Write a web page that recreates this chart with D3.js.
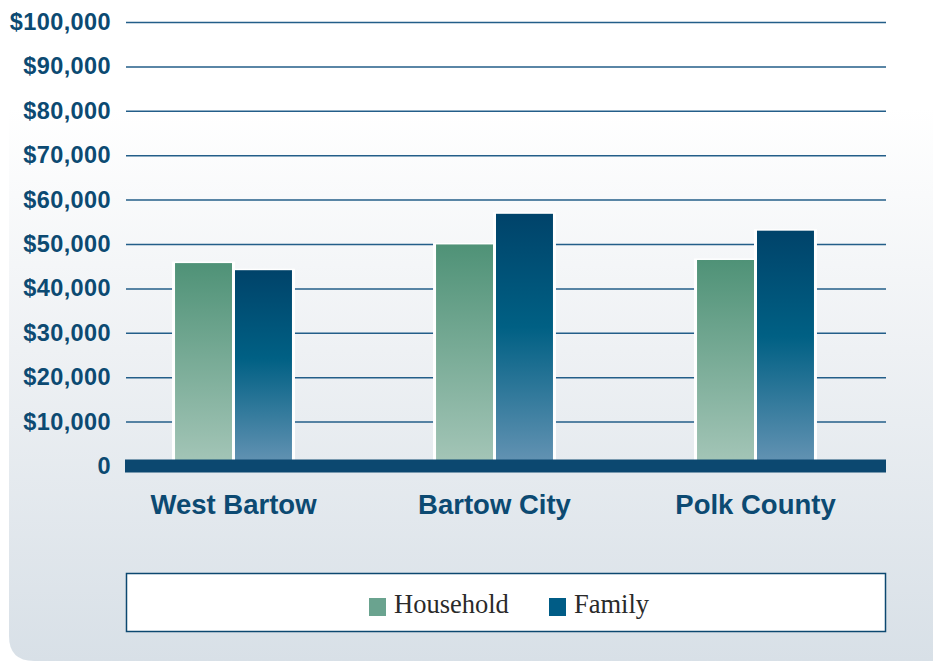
<!DOCTYPE html>
<html><head><meta charset="utf-8">
<script src="https://cdn.jsdelivr.net/npm/d3@7"></script>
<style>html,body{margin:0;padding:0;background:#fff;}svg{display:block;}</style>
</head><body>
<script>
const categories = ["West Bartow", "Bartow City", "Polk County"];
const seriesNames = ["Household", "Family"];
const household = [45700, 49900, 46400];
const family = [44100, 56800, 53000];
const tickValues = [0, 10000, 20000, 30000, 40000, 50000, 60000, 70000, 80000, 90000, 100000];
const tickLabels = ["0", "$10,000", "$20,000", "$30,000", "$40,000", "$50,000", "$60,000", "$70,000", "$80,000", "$90,000", "$100,000"];

const W = 933, H = 662;
const svg = d3.select("body").append("svg").attr("width", W).attr("height", H);
const defs = svg.append("defs");

const bg = defs.append("linearGradient").attr("id", "bg").attr("x1", 0).attr("y1", 0).attr("x2", 0).attr("y2", 1);
bg.append("stop").attr("offset", "0.2").attr("stop-color", "#ffffff");
bg.append("stop").attr("offset", "0.55").attr("stop-color", "#eef1f4");
bg.append("stop").attr("offset", "1").attr("stop-color", "#d8e0e7");

const gH = defs.append("linearGradient").attr("id", "gHousehold").attr("x1", 0).attr("y1", 0).attr("x2", 0).attr("y2", 1);
gH.append("stop").attr("offset", "0").attr("stop-color", "#4f9277");
gH.append("stop").attr("offset", "1").attr("stop-color", "#a5c6b8");
const gF = defs.append("linearGradient").attr("id", "gFamily").attr("x1", 0).attr("y1", 0).attr("x2", 0).attr("y2", 1);
gF.append("stop").attr("offset", "0").attr("stop-color", "#00436a");
gF.append("stop").attr("offset", "0.45").attr("stop-color", "#006084");
gF.append("stop").attr("offset", "1").attr("stop-color", "#6694b4");

// background panel
svg.append("path")
  .attr("d", "M9,-30 L960,-30 L960,661 L34,661 Q9,661 9,636 Z")
  .attr("fill", "url(#bg)");

const y = d3.scaleLinear().domain([0, 100000]).range([466, 22]);
const x0 = d3.scaleBand().domain(categories).range([103, 886]).paddingInner(0.552).paddingOuter(0.276);
const x1 = d3.scaleBand().domain(seriesNames).range([0, x0.bandwidth()]).paddingInner(0.05);

const textColor = "#0c4a72";

// gridlines + y labels
const yAxis = d3.axisLeft(y).tickValues(tickValues)
  .tickFormat((d, i) => tickLabels[i])
  .tickSize(-760).tickPadding(15);
const gy = svg.append("g").attr("transform", "translate(126,0)").call(yAxis);
gy.select(".domain").remove();
gy.selectAll(".tick line").attr("stroke", "#235e89").attr("stroke-width", 1.5);
gy.selectAll(".tick text").attr("fill", textColor)
  .attr("font-family", "'Liberation Sans', Arial, Helvetica, sans-serif")
  .attr("font-weight", "bold").attr("font-size", 23.5).attr("letter-spacing", 0.4);

const data = categories.map((c, i) => ({cat: c, vals: [
  {s: "Household", v: household[i]}, {s: "Family", v: family[i]}]}));

const groups = svg.append("g").selectAll("g").data(data).join("g")
  .attr("transform", d => `translate(${x0(d.cat)},0)`);
groups.selectAll("rect.halo").data(d => d.vals).join("rect").attr("class", "halo")
  .attr("x", d => x1(d.s) - 3).attr("width", x1.bandwidth() + 6)
  .attr("y", d => y(d.v) - 1.5).attr("height", d => y(0) - y(d.v) + 1.5)
  .attr("fill", "#ffffff");
groups.selectAll("rect.bar").data(d => d.vals).join("rect").attr("class", "bar")
  .attr("x", d => x1(d.s)).attr("width", x1.bandwidth())
  .attr("y", d => y(d.v)).attr("height", d => y(0) - y(d.v))
  .attr("fill", d => d.s === "Household" ? "url(#gHousehold)" : "url(#gFamily)");

// baseline band
svg.append("line").attr("x1", 125).attr("x2", 886).attr("y1", y(0)).attr("y2", y(0))
  .attr("stroke", "#0c4870").attr("stroke-width", 13);

// category labels
const xAxis = d3.axisBottom(x0).tickSize(0).tickPadding(21);
const gx = svg.append("g").attr("transform", "translate(0,473)").call(xAxis);
gx.select(".domain").remove();
gx.selectAll(".tick text").attr("fill", textColor)
  .attr("font-family", "'Liberation Sans', Arial, Helvetica, sans-serif")
  .attr("font-weight", "bold").attr("font-size", 27.5);

// legend
const lg = svg.append("g");
lg.append("rect").attr("x", 126.5).attr("y", 573.5).attr("width", 759).attr("height", 58)
  .attr("fill", "#ffffff").attr("stroke", "#0c4870").attr("stroke-width", 1.5);
const legendColors = {Household: "#6aa38f", Family: "#005c86"};
const legendX = {Household: 369, Family: 549};
seriesNames.forEach(s => {
  lg.append("rect").attr("x", legendX[s]).attr("y", 598).attr("width", 17).attr("height", 18)
    .attr("fill", legendColors[s]);
  lg.append("text").attr("x", legendX[s] + 25).attr("y", 613).text(s)
    .attr("fill", "#2a2a2a").attr("font-family", "'Liberation Serif', 'DejaVu Serif', serif")
    .attr("font-size", 26.5);
});
</script>
</body></html>
